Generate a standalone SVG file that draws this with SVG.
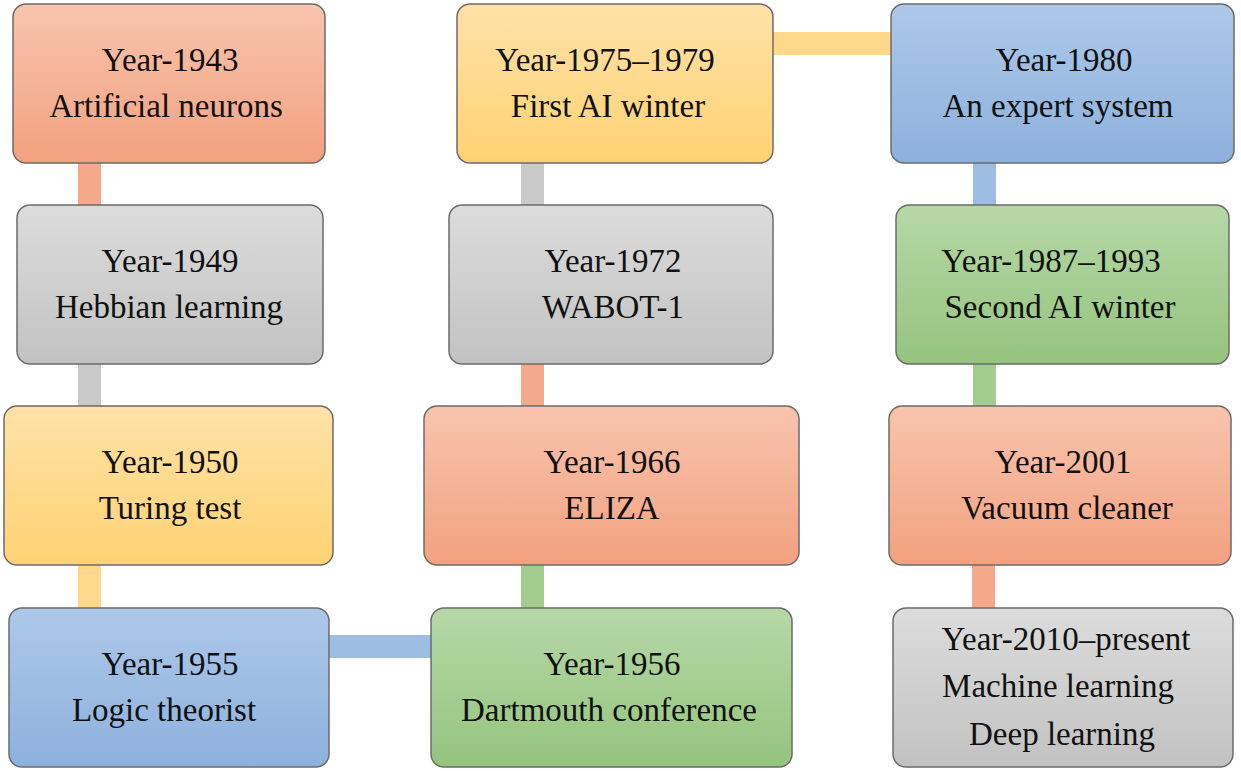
<svg xmlns="http://www.w3.org/2000/svg" width="1241" height="771" viewBox="0 0 1241 771">
<defs>
<linearGradient id="gS" x1="0" y1="0" x2="0" y2="1"><stop offset="0" stop-color="#f8c4ae"/><stop offset="1" stop-color="#f2a17f"/></linearGradient>
<linearGradient id="gG" x1="0" y1="0" x2="0" y2="1"><stop offset="0" stop-color="#dcdcdc"/><stop offset="1" stop-color="#c2c2c2"/></linearGradient>
<linearGradient id="gY" x1="0" y1="0" x2="0" y2="1"><stop offset="0" stop-color="#ffe2a8"/><stop offset="1" stop-color="#ffd273"/></linearGradient>
<linearGradient id="gB" x1="0" y1="0" x2="0" y2="1"><stop offset="0" stop-color="#adc8e9"/><stop offset="1" stop-color="#8db1dd"/></linearGradient>
<linearGradient id="gN" x1="0" y1="0" x2="0" y2="1"><stop offset="0" stop-color="#b6d8a7"/><stop offset="1" stop-color="#95c47e"/></linearGradient>
</defs>
<style>
.box{stroke:#6b6b6b;stroke-width:1.5}
.t{font-family:"Liberation Serif","Times New Roman",serif;font-size:33px;fill:#111;text-anchor:middle}
.cs{fill:#f4a98a}.cg{fill:#c9c9c9}.cy{fill:#ffd88c}.cb{fill:#9dbde3}.cn{fill:#a3cc8f}
</style>
<rect width="1241" height="771" fill="#ffffff"/>
<g id="connectors">
<rect class="cs" x="78" y="160" width="23" height="48"/>
<rect class="cg" x="78" y="361" width="23" height="48"/>
<rect class="cy" x="78" y="562" width="23" height="49"/>
<rect class="cb" x="326" y="635" width="108" height="23"/>
<rect class="cn" x="521" y="562" width="23" height="49"/>
<rect class="cs" x="521" y="361" width="23" height="48"/>
<rect class="cg" x="521" y="160" width="23" height="48"/>
<rect class="cy" x="770" y="32" width="124" height="23"/>
<rect class="cb" x="973" y="160" width="23" height="48"/>
<rect class="cn" x="973" y="361" width="23" height="48"/>
<rect class="cs" x="972" y="562" width="23" height="49"/>
</g>
<g id="n1943"><rect class="box" x="13" y="4" width="312" height="159" rx="13" fill="url(#gS)"/><text class="t" x="170" y="71">Year-1943</text><text class="t" x="166" y="117">Artificial neurons</text></g>
<g id="n1949"><rect class="box" x="17" y="205" width="306" height="159" rx="13" fill="url(#gG)"/><text class="t" x="170" y="272">Year-1949</text><text class="t" x="169" y="318">Hebbian learning</text></g>
<g id="n1950"><rect class="box" x="4" y="406" width="329" height="159" rx="13" fill="url(#gY)"/><text class="t" x="170" y="473">Year-1950</text><text class="t" x="170" y="519">Turing test</text></g>
<g id="n1955"><rect class="box" x="9" y="608" width="320" height="159" rx="13" fill="url(#gB)"/><text class="t" x="170" y="675">Year-1955</text><text class="t" x="164" y="721">Logic theorist</text></g>
<g id="n1956"><rect class="box" x="431" y="608" width="361" height="159" rx="13" fill="url(#gN)"/><text class="t" x="612" y="675">Year-1956</text><text class="t" x="609" y="721">Dartmouth conference</text></g>
<g id="n1966"><rect class="box" x="424" y="406" width="375" height="159" rx="13" fill="url(#gS)"/><text class="t" x="612" y="473">Year-1966</text><text class="t" x="612" y="519">ELIZA</text></g>
<g id="n1972"><rect class="box" x="449" y="205" width="324" height="159" rx="13" fill="url(#gG)"/><text class="t" x="613" y="272">Year-1972</text><text class="t" x="613" y="318">WABOT-1</text></g>
<g id="n1975"><rect class="box" x="457" y="4" width="316" height="159" rx="13" fill="url(#gY)"/><text class="t" x="605" y="71">Year-1975–1979</text><text class="t" x="608" y="117">First AI winter</text></g>
<g id="n1980"><rect class="box" x="891" y="4" width="343" height="159" rx="13" fill="url(#gB)"/><text class="t" x="1064" y="71">Year-1980</text><text class="t" x="1058" y="117">An expert system</text></g>
<g id="n1987"><rect class="box" x="896" y="205" width="333" height="159" rx="13" fill="url(#gN)"/><text class="t" x="1051" y="272">Year-1987–1993</text><text class="t" x="1060" y="318">Second AI winter</text></g>
<g id="n2001"><rect class="box" x="889" y="406" width="342" height="159" rx="13" fill="url(#gS)"/><text class="t" x="1063" y="473">Year-2001</text><text class="t" x="1067" y="519">Vacuum cleaner</text></g>
<g id="n2010"><rect class="box" x="893" y="608" width="340" height="159" rx="13" fill="url(#gG)"/><text class="t" x="1066" y="650">Year-2010–present</text><text class="t" x="1058" y="697">Machine learning</text><text class="t" x="1062" y="745">Deep learning</text></g>
</svg>
